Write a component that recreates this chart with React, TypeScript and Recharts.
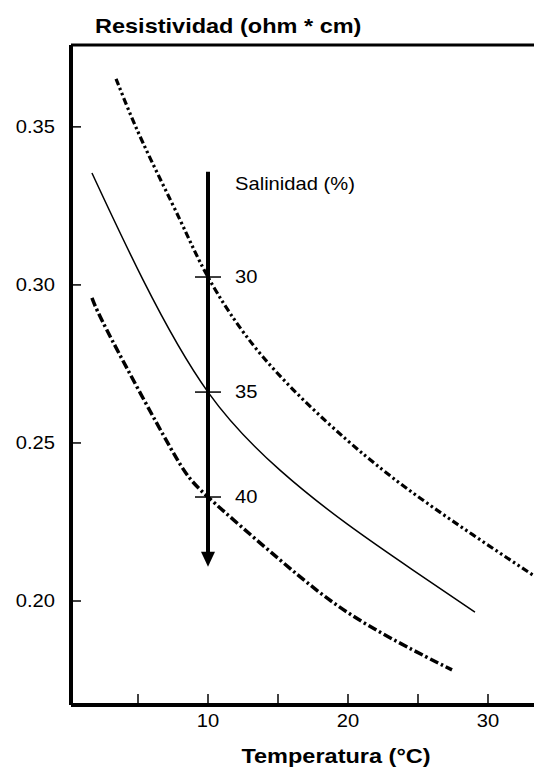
import React from 'react';
import {
  ComposedChart,
  Line,
  Scatter,
  XAxis,
  YAxis,
  ReferenceLine
} from 'recharts';

// temperatura (°C) and resistividad (ohm * cm)
const tempHigh = [3.43, 5.36, 8.0, 10, 13.93, 19.93, 24.64, 28.93, 33.21];
const resHigh = [0.3652, 0.3449, 0.3206, 0.3025, 0.2772, 0.2509, 0.2342, 0.2209, 0.2082];

const tempMid = [1.71, 5.36, 10, 15.14, 19.93, 24.64, 29.07];
const resMid = [0.3354, 0.3016, 0.2661, 0.2414, 0.2244, 0.2098, 0.1965];

const tempLow = [1.71, 3.14, 7.29, 10, 15.14, 19.93, 24.64, 27.43];
const resLow = [0.2959, 0.2826, 0.2487, 0.2329, 0.213, 0.1965, 0.1845, 0.1782];

// salinity marks on the arrow at 10 °C
const salinities = [30, 35, 40];
const salinityRes = [0.3025, 0.2661, 0.2329];
const ARROW_TEMP = 10;
const ARROW_TOP = 0.3358;
const ARROW_TIP = 0.2108;

const xTicks = [5, 10, 15, 20, 25, 30];
const yTicks = [0.2, 0.25, 0.3, 0.35];
const X_DOMAIN = [0.214, 33.286];
const Y_DOMAIN = [0.1671, 0.3759];

const toRows = (ts: number[], rs: number[]) => ts.map((t, i) => ({ t, r: rs[i] }));
const highData = toRows(tempHigh, resHigh);
const midData = toRows(tempMid, resMid);
const lowData = toRows(tempLow, resLow);
const markData = salinities.map((s, i) => ({ t: ARROW_TEMP, r: salinityRes[i], s }));

const STRETCH = 1.12;

const StretchText = ({ x, y, anchor = 'start', size = 18, weight = 'normal', baseline = 'auto', children }: any) => (
  <text
    transform={`translate(${x} ${y}) scale(${STRETCH} 1)`}
    textAnchor={anchor}
    dominantBaseline={baseline}
    fontSize={size}
    fontWeight={weight}
    fill="#000"
  >
    {children}
  </text>
);

const YTick = (props: any) => {
  const { x, y, payload } = props;
  return (
    <StretchText x={x} y={y} anchor="end" baseline="central">
      {Number(payload.value).toFixed(2)}
    </StretchText>
  );
};

const XTick = (props: any) => {
  const { x, y, payload } = props;
  if (payload.value % 10 !== 0) return <g />;
  return (
    <StretchText x={x} y={y + 11} anchor="middle">
      {payload.value}
    </StretchText>
  );
};

const MarkShape = (props: any) => {
  const { cx, cy, payload } = props;
  return (
    <g>
      <line x1={cx - 13} y1={cy} x2={cx + 13} y2={cy} stroke="#000" strokeWidth={1.5} />
      <StretchText x={cx + 27} y={cy} baseline="central">{payload.s}</StretchText>
    </g>
  );
};

const ArrowShape = (props: any) => {
  const { x1, y1, y2 } = props;
  return (
    <g>
      <line x1={x1} y1={y1} x2={x1} y2={y2 - 10} stroke="#000" strokeWidth={4} />
      <polygon points={`${x1 - 7},${y2 - 15} ${x1 + 7},${y2 - 15} ${x1},${y2}`} fill="#000" />
      <StretchText x={x1 + 27} y={y1 + 12} baseline="central">Salinidad (%)</StretchText>
    </g>
  );
};

const App = () => {
  return (
    <div style={{ position: 'absolute', left: 0, top: 0, fontFamily: '"Liberation Sans", Arial, sans-serif' }}>
      <ComposedChart
        width={534}
        height={777}
        margin={{ top: 45, right: 0, left: 0, bottom: 0 }}
      >
        <XAxis
          dataKey="t"
          type="number"
          domain={X_DOMAIN}
          ticks={xTicks}
          allowDataOverflow
          height={72}
          axisLine={{ stroke: '#000', strokeWidth: 4 }}
          tickLine={{ stroke: '#000', strokeWidth: 1.5 }}
          tickSize={-11}
          tickMargin={22}
          tick={<XTick />}
          interval={0}
          label={{
            content: () => (
              <StretchText x={336} y={763} anchor="middle" size={21} weight="bold">
                Temperatura (°C)
              </StretchText>
            )
          }}
        />
        <YAxis
          dataKey="r"
          type="number"
          domain={Y_DOMAIN}
          ticks={yTicks}
          allowDataOverflow
          width={71}
          axisLine={{ stroke: '#000', strokeWidth: 4 }}
          tickLine={{ stroke: '#000', strokeWidth: 1.5 }}
          tickSize={-10}
          tickMargin={26}
          tick={<YTick />}
          interval={0}
          label={{
            content: () => (
              <StretchText x={95} y={33} size={21} weight="bold">
                Resistividad (ohm * cm)
              </StretchText>
            )
          }}
        />
        <ReferenceLine y={Y_DOMAIN[1]} stroke="#000" strokeWidth={3} />
        <Line
          data={highData}
          dataKey="r"
          type="natural"
          stroke="#000"
          strokeWidth={3.2}
          strokeDasharray="7 3 2.5 3 2.5 3"
          dot={false}
          isAnimationActive={false}
        />
        <Line
          data={midData}
          dataKey="r"
          type="natural"
          stroke="#000"
          strokeWidth={1.5}
          dot={false}
          isAnimationActive={false}
        />
        <Line
          data={lowData}
          dataKey="r"
          type="natural"
          stroke="#000"
          strokeWidth={3.5}
          strokeDasharray="9 3 2.5 3"
          dot={false}
          isAnimationActive={false}
        />
        <ReferenceLine
          segment={[{ x: ARROW_TEMP, y: ARROW_TOP }, { x: ARROW_TEMP, y: ARROW_TIP }]}
          shape={<ArrowShape />}
        />
        <Scatter data={markData} dataKey="r" shape={<MarkShape />} isAnimationActive={false} />
      </ComposedChart>
    </div>
  );
};

export default App;
